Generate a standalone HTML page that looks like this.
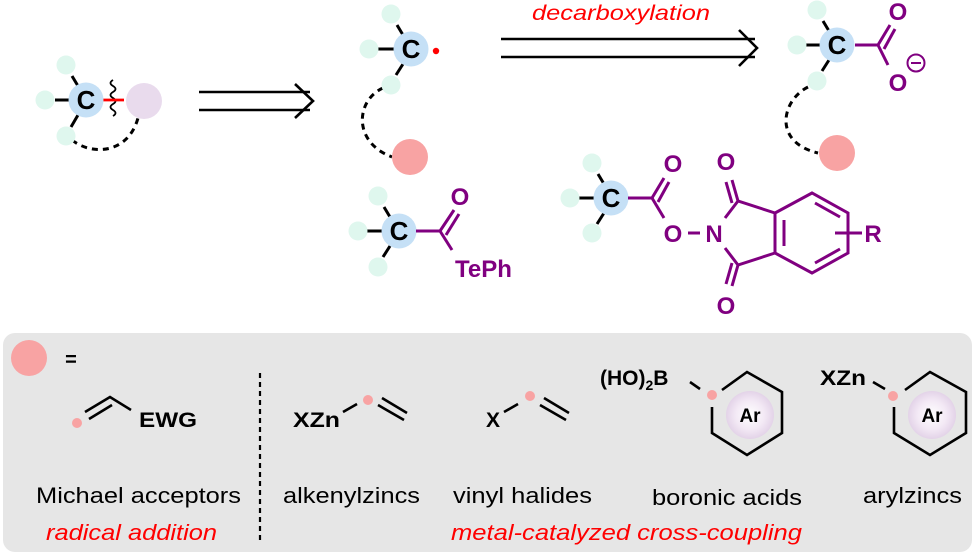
<!DOCTYPE html>
<html><head><meta charset="utf-8"><style>
html,body{margin:0;padding:0;background:#fff;}
svg{display:block;font-family:"Liberation Sans",Arial,sans-serif;}
</style></head><body>
<svg width="975" height="557" viewBox="0 0 975 557" xmlns="http://www.w3.org/2000/svg">
<defs>
<radialGradient id="ar" cx="50%" cy="50%" r="50%">
<stop offset="0" stop-color="#ffffff"/><stop offset="0.6" stop-color="#f3e9f5"/><stop offset="1" stop-color="#e3d3e8"/>
</radialGradient>
</defs>
<rect x="3" y="333" width="969" height="219" rx="12" fill="#e6e6e6"/>

<g stroke="#000" stroke-width="3" fill="none">
<line x1="72" y1="76" x2="78" y2="86"/><line x1="55" y1="100" x2="70" y2="100"/><line x1="78" y1="115" x2="71" y2="127"/>
<line x1="397" y1="25" x2="403" y2="35"/><line x1="377" y1="49" x2="394" y2="49"/><line x1="403" y1="64" x2="396" y2="75"/>
<line x1="384" y1="207" x2="390" y2="217"/><line x1="366" y1="231" x2="382" y2="231"/><line x1="390" y1="246" x2="383" y2="257"/>
<line x1="823" y1="21" x2="829" y2="31"/><line x1="805" y1="45" x2="820" y2="45"/><line x1="829" y1="60" x2="822" y2="71"/>
<line x1="598" y1="174" x2="604" y2="184"/><line x1="578" y1="198" x2="594" y2="198"/><line x1="604" y1="213" x2="597" y2="224"/>
<g stroke-width="2.6">
<line x1="199" y1="92" x2="310" y2="92"/><line x1="199" y1="110" x2="310" y2="110"/>
<polyline points="295,84 313,101 295,118"/>
<line x1="501" y1="39" x2="755" y2="39"/><line x1="501" y1="57" x2="755" y2="57"/>
<polyline points="739,30 757,48 739,66"/>
</g>
<path d="M72,140 C92,156 128,154 138,118" stroke-dasharray="6,5"/>
<path d="M383,88 C356,100 352,142 392,157" stroke-dasharray="6,5"/>
<path d="M808,87 C782,100 772,142 818,153" stroke-dasharray="6,5"/>
<path d="M113,80 q-5,3 0,6 q5,3 0,6 q-5,3 0,6 q5,3 0,6 q-5,3 0,6 q5,3 0,6" stroke-width="1.8"/>
</g>
<line x1="101" y1="100" x2="124" y2="100" stroke="#f00" stroke-width="2.8"/>

<g fill="#dff7ee">
<circle cx="66" cy="65" r="9.5"/><circle cx="45" cy="100" r="9.5"/><circle cx="66" cy="136" r="9.5"/>
<circle cx="391" cy="14" r="9.5"/><circle cx="369" cy="49" r="9.5"/><circle cx="391" cy="85" r="9.5"/>
<circle cx="378" cy="196" r="9.5"/><circle cx="358" cy="231" r="9.5"/><circle cx="378" cy="267" r="9.5"/>
<circle cx="817" cy="10" r="9.5"/><circle cx="797" cy="45" r="9.5"/><circle cx="817" cy="81" r="9.5"/>
<circle cx="592" cy="163" r="9.5"/><circle cx="570" cy="198" r="9.5"/><circle cx="592" cy="233" r="9.5"/>
</g>
<g fill="#c5e0f6">
<circle cx="86" cy="100" r="17.5"/><circle cx="411" cy="49" r="17.5"/><circle cx="399" cy="231" r="17.5"/><circle cx="837" cy="45" r="17.5"/><circle cx="611" cy="198" r="17.5"/>
</g>
<circle cx="144" cy="101" r="18" fill="#e9dbed"/>
<circle cx="410" cy="157" r="18" fill="#f8a3a3"/>
<circle cx="837" cy="153" r="18" fill="#f8a3a3"/>
<circle cx="436" cy="51" r="3.2" fill="#f00"/>
<g font-weight="bold" font-size="26" text-anchor="middle">
<text x="86" y="109">C</text><text x="411" y="58">C</text><text x="399" y="240">C</text><text x="837" y="54">C</text><text x="611" y="207">C</text>
</g>

<g stroke="#800080" stroke-width="3" fill="none">
<line x1="416" y1="231" x2="440" y2="231"/>
<line x1="440" y1="231" x2="454" y2="210"/><line x1="446" y1="235" x2="459" y2="214"/>
<line x1="440" y1="231" x2="452" y2="250"/>
<line x1="855" y1="45" x2="878" y2="45"/>
<line x1="878" y1="45" x2="890" y2="25"/><line x1="884" y1="49" x2="895" y2="29"/>
<line x1="878" y1="45" x2="888" y2="65"/>
<circle cx="916" cy="63" r="8.5" stroke-width="2"/><line x1="911" y1="63" x2="921" y2="63" stroke-width="2"/>
<line x1="628" y1="198" x2="652" y2="198"/>
<line x1="652" y1="198" x2="664" y2="178"/><line x1="658" y1="202" x2="669" y2="182"/>
<line x1="652" y1="198" x2="664" y2="218"/>
<line x1="688" y1="233" x2="700" y2="233"/>
<polyline points="725,218 738,201 775,213"/>
<polyline points="725,248 738,265 775,253"/>
<line x1="738" y1="201" x2="732" y2="180"/><line x1="732" y1="203" x2="726" y2="182"/>
<line x1="738" y1="265" x2="732" y2="286"/><line x1="732" y1="263" x2="726" y2="284"/>
<polygon points="775,213 812,193 848,213 848,253 812,273 775,253"/>
<line x1="784" y1="220" x2="784" y2="246"/>
<line x1="815" y1="203" x2="840" y2="217"/>
<line x1="815" y1="263" x2="840" y2="249"/>
<line x1="835" y1="233" x2="862" y2="233"/>
</g>
<g fill="#800080" font-weight="bold" font-size="24" text-anchor="middle">
<text x="460" y="205">O</text>
<text x="455" y="277" text-anchor="start">TePh</text>
<text x="898" y="20">O</text><text x="898" y="91">O</text>
<text x="673" y="172">O</text><text x="673" y="242">O</text><text x="714" y="242">N</text>
<text x="726" y="170">O</text><text x="726" y="314">O</text>
<text x="873" y="242">R</text>
</g>
<text x="621" y="20" fill="#f00" font-style="italic" font-size="21" text-anchor="middle" textLength="178" lengthAdjust="spacingAndGlyphs">decarboxylation</text>

<circle cx="29" cy="358" r="18" fill="#f8a3a3"/>
<text x="71" y="366" font-weight="bold" font-size="20" text-anchor="middle">=</text>
<line x1="260" y1="373" x2="260" y2="542" stroke="#000" stroke-width="2.2" stroke-dasharray="5,4"/>
<g stroke="#000" stroke-width="2.6" fill="none">
<polyline points="85,412 110,397 131,410"/>
<line x1="89" y1="419" x2="112" y2="405"/>
<line x1="343" y1="412" x2="357" y2="404"/>
<line x1="378" y1="405" x2="404" y2="420"/><line x1="382" y1="398" x2="407" y2="413"/>
<line x1="504" y1="412" x2="518" y2="404"/>
<line x1="540" y1="405" x2="566" y2="420"/><line x1="544" y1="398" x2="569" y2="413"/>
<line x1="690" y1="382" x2="700" y2="389"/>
<polyline points="722,390 747,372 782,392 782,433 747,455 712,433 712,407"/>
<line x1="873" y1="382" x2="885" y2="389"/>
<polyline points="905,390 930,372 966,392 966,433 930,455 894,433 894,407"/>
</g>
<g fill="#f8a3a3">
<circle cx="77" cy="423" r="5"/><circle cx="368" cy="400" r="5"/><circle cx="530" cy="396" r="5"/><circle cx="712" cy="395" r="5"/><circle cx="893" cy="396" r="5"/>
</g>
<circle cx="750" cy="415" r="24" fill="url(#ar)"/>
<circle cx="932" cy="415" r="24" fill="url(#ar)"/>
<g font-weight="bold" font-size="21">
<text x="139" y="427" textLength="58" lengthAdjust="spacingAndGlyphs">EWG</text>
<text x="293" y="427" textLength="47" lengthAdjust="spacingAndGlyphs">XZn</text>
<text x="486" y="427">X</text>
<text x="600" y="385">(HO)<tspan font-size="14" dy="5">2</tspan><tspan dy="-5">B</tspan></text>
<text x="820" y="385" textLength="46" lengthAdjust="spacingAndGlyphs">XZn</text>
<text x="750" y="422" text-anchor="middle" font-size="19">Ar</text>
<text x="932" y="422" text-anchor="middle" font-size="19">Ar</text>
</g>
<g font-size="22">
<text x="36" y="503" textLength="205" lengthAdjust="spacingAndGlyphs">Michael acceptors</text>
<text x="283" y="503" textLength="137" lengthAdjust="spacingAndGlyphs">alkenylzincs</text>
<text x="453" y="503" textLength="139" lengthAdjust="spacingAndGlyphs">vinyl halides</text>
<text x="652" y="505" textLength="150" lengthAdjust="spacingAndGlyphs">boronic acids</text>
<text x="863" y="503" textLength="99" lengthAdjust="spacingAndGlyphs">arylzincs</text>
</g>
<g font-size="22" font-style="italic" fill="#f00">
<text x="46" y="540" textLength="171" lengthAdjust="spacingAndGlyphs">radical addition</text>
<text x="451" y="540" textLength="351" lengthAdjust="spacingAndGlyphs">metal-catalyzed cross-coupling</text>
</g>
</svg>
</body></html>
